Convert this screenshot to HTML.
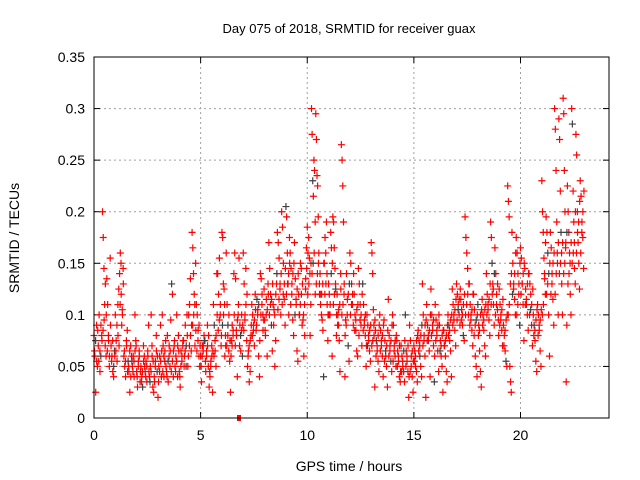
<!DOCTYPE html>
<html><head><meta charset="utf-8"><style>
html,body{margin:0;padding:0;background:#fff;}
svg{display:block;font-family:"Liberation Sans",sans-serif;}
</style></head><body>
<svg id="chart" width="640" height="480">
<rect width="640" height="480" fill="#fff"/>
<text x="349" y="33" font-size="13" text-anchor="middle" fill="#000">Day 075 of 2018, SRMTID for receiver guax</text>
<g id="grid"></g>
<g id="ticks"></g>
<g id="points"></g>
<rect x="94" y="57" width="515" height="361" fill="none" stroke="#000" stroke-width="1"/>
<text x="349" y="471" font-size="14" text-anchor="middle">GPS time / hours</text>
<text x="19" y="238" font-size="14" text-anchor="middle" transform="rotate(-90 19 238)">SRMTID / TECUs</text>
</svg>
<script>
const xTicks=[0,5,10,15,20];
const yTicks=[0,0.05,0.1,0.15,0.2,0.25,0.3,0.35];
const yTickLabels=["0","0.05","0.1","0.15","0.2","0.25","0.3","0.35"];
const binStarts=[0,0.2,0.4,0.6,0.8,1.0,1.2,1.4,1.6,1.8,2.0,2.2,2.4,2.6,2.8,3.0,3.2,3.4,3.6,3.8,4.0,4.2,4.4,4.6,4.8,5.0,5.2,5.4,5.6,5.8,6.0,6.2,6.4,6.6,6.8,7.0,7.2,7.4,7.6,7.8,8.0,8.2,8.4,8.6,8.8,9.0,9.2,9.4,9.6,9.8,10.0,10.2,10.4,10.6,10.8,11.0,11.2,11.4,11.6,11.8,12.0,12.2,12.4,12.6,12.8,13.0,13.2,13.4,13.6,13.8,14.0,14.2,14.4,14.6,14.8,15.0,15.2,15.4,15.6,15.8,16.0,16.2,16.4,16.6,16.8,17.0,17.2,17.4,17.6,17.8,18.0,18.2,18.4,18.6,18.8,19.0,19.2,19.4,19.6,19.8,20.0,20.2,20.4,20.6,20.8,21.0,21.2,21.4,21.6,21.8,22.0,22.2,22.4,22.6,22.8];
const srmtid=[
[.08,.06,.025,.09,.05],[.07,.1,.045,.06,.08],[.2,.175,.145,.11,.13,.06],[.135,.11,.075,.05,.155],[.07,.06,.045,.04,.065],
[.1,.075,.055,.11,.125],[.14,.16,.15,.09,.1,.145],[.06,.05,.04,.075,.085],[.055,.045,.025,.07,.06],[.05,.06,.04,.1,.075],
[.045,.03,.055,.065,.035],[.05,.04,.03,.07,.06],[.045,.055,.035,.065,.09],[.04,.05,.1,.07,.03],[.025,.035,.055,.08,.045],
[.02,.05,.06,.09,.04],[.1,.07,.04,.055,.075],[.045,.08,.035,.06,.05],[.095,.13,.12,.04,.07],[.05,.06,.1,.04,.08],
[.045,.03,.065,.055,.07],[.075,.06,.09,.05,.1],[.05,.1,.11,.135,.065],[.18,.165,.14,.12,.07,.15],[.11,.1,.085,.06,.05],
[.06,.035,.07,.065,.08],[.075,.045,.06,.09,.05],[.03,.04,.055,.07,.025],[.11,.09,.065,.05,.14],[.14,.12,.155,.1,.07],
[.18,.175,.13,.125,.06,.08],[.16,.11,.09,.065,.055],[.025,.075,.09,.08,.14],[.16,.135,.08,.04,.1],[.155,.09,.065,.085,.06],
[.16,.13,.1,.145,.075],[.05,.065,.035,.045,.08],[.11,.1,.09,.07,.12],[.085,.115,.105,.06,.04],[.14,.135,.12,.1,.095],
[.095,.08,.115,.06,.13],[.17,.145,.12,.09,.065],[.11,.105,.05,.075,.13],[.18,.17,.155,.125,.1],[.2,.185,.15,.115,.09],
[.205,.195,.16,.13,.1,.175],[.16,.145,.13,.095,.08],[.17,.135,.11,.065,.055],[.12,.1,.15,.145,.09],[.095,.06,.08,.125,.165],
[.185,.16,.175,.155,.08,.11],[.3,.275,.23,.215,.25,.24,.19],[.295,.27,.235,.225,.195,.16,.13],[.14,.12,.1,.095,.085,.04],[.15,.175,.16,.19,.11,.075],
[.13,.12,.1,.18,.165,.06],[.195,.19,.165,.145,.125,.08],[.12,.1,.09,.075,.045,.14],[.265,.25,.225,.19,.13,.04],[.095,.14,.115,.07,.055],
[.16,.15,.13,.11,.09],[.12,.1,.085,.065,.06],[.145,.13,.11,.09,.07],[.13,.11,.095,.08,.05],[.1,.09,.075,.065,.055],
[.17,.16,.14,.105,.08,.03],[.085,.075,.065,.055,.045],[.1,.085,.07,.06,.04],[.095,.075,.06,.05,.03],[.115,.08,.07,.055,.045],
[.1,.09,.07,.06,.05],[.075,.065,.055,.04,.035],[.07,.06,.05,.045,.035],[.1,.065,.055,.045,.02],[.09,.075,.06,.04,.025],
[.07,.065,.05,.045,.035],[.085,.075,.06,.05,.04],[.13,.1,.08,.06,.02],[.11,.09,.075,.065,.04],[.125,.1,.085,.07,.035],
[.11,.095,.08,.065,.045],[.09,.075,.06,.05,.025],[.085,.07,.06,.045,.035],[.1,.09,.075,.065,.04],[.125,.11,.095,.085,.07],
[.13,.12,.11,.1,.09],[.115,.105,.09,.08,.075],[.195,.175,.16,.145,.1],[.13,.11,.1,.085,.07],[.12,.105,.06,.05,.04],
[.11,.09,.065,.045,.03],[.115,.1,.085,.07,.06],[.14,.12,.105,.095,.08],[.19,.175,.15,.13,.11,.09],[.165,.14,.12,.105,.095],
[.125,.11,.1,.085,.07],[.09,.08,.065,.055,.05],[.225,.21,.195,.05,.035,.025],[.18,.15,.13,.115,.1],[.175,.16,.14,.12,.09],
[.165,.155,.13,.11,.075],[.145,.125,.11,.1,.085],[.14,.13,.12,.09,.07],[.1,.09,.075,.055,.045],[.11,.1,.085,.065,.05],
[.23,.2,.18,.155,.135,.12],[.195,.18,.16,.1,.06],[.18,.165,.14,.115,.09],[.3,.28,.24,.19,.15,.1],[.29,.27,.22,.18,.13,.1],
[.31,.295,.24,.2,.165,.035,.09],[.225,.2,.18,.16,.12,.1],[.3,.285,.22,.19,.145,.13],[.275,.255,.2,.17,.15,.125],[.23,.215,.19,.175,.145]
];
const srmtidCore=[
[.065,.075,.055,.085],[.055,.065,.09,.075],[.085,.095,.07,.1],[.065,.08,.06,.09],[.055,.075,.05,.06],
[.065,.09,.08,.07],[.11,.12,.105,.13],[.065,.055,.07,.045],[.05,.065,.04,.055],[.045,.055,.065,.07],
[.04,.05,.06,.045],[.035,.045,.055,.05],[.04,.05,.06,.045],[.035,.045,.06,.055],[.04,.05,.065,.06],
[.035,.045,.055,.065],[.045,.06,.065,.05],[.04,.055,.07,.065],[.045,.055,.065,.075],[.045,.055,.07,.065],
[.04,.05,.06,.075],[.05,.065,.07,.08],[.06,.07,.08,.09],[.09,.1,.11,.085],[.065,.075,.09,.07],
[.05,.06,.07,.075],[.055,.065,.07,.08],[.045,.05,.06,.065],[.06,.075,.08,.1],[.085,.095,.11,.08],
[.09,.1,.11,.07],[.07,.08,.1,.075],[.06,.07,.085,.1],[.07,.085,.095,.11],[.07,.08,.1,.09],
[.085,.095,.11,.12],[.06,.07,.075,.09],[.08,.085,.095,.105],[.09,.1,.11,.075],[.1,.11,.085,.125],
[.085,.1,.105,.12],[.1,.11,.115,.13],[.09,.1,.12,.14],[.105,.115,.13,.14],[.11,.12,.13,.145],
[.12,.13,.14,.15],[.11,.12,.14,.15],[.1,.115,.125,.14],[.1,.11,.12,.13],[.1,.11,.135,.145],
[.12,.13,.14,.15],[.14,.15,.16,.12],[.13,.14,.15,.12],[.11,.12,.13,.15],[.12,.13,.14,.1],
[.1,.11,.14,.15],[.11,.12,.13,.1],[.09,.105,.11,.125],[.1,.11,.12,.08],[.09,.1,.12,.13],
[.1,.11,.12,.14],[.085,.095,.105,.11],[.08,.095,.1,.12],[.085,.09,.1,.07],[.07,.08,.085,.09],
[.07,.075,.09,.095],[.06,.07,.08,.09],[.065,.075,.08,.09],[.055,.065,.07,.085],[.06,.065,.075,.09],
[.055,.065,.075,.08],[.05,.06,.07,.045],[.045,.055,.065,.075],[.05,.06,.07,.04],[.045,.05,.065,.055],
[.055,.06,.075,.08],[.065,.07,.08,.09],[.07,.075,.09,.095],[.075,.08,.085,.1],[.08,.09,.095,.06],
[.075,.085,.09,.1],[.065,.07,.08,.085],[.07,.075,.08,.09],[.08,.085,.095,.1],[.09,.1,.105,.115],
[.095,.105,.115,.125],[.095,.1,.11,.12],[.1,.11,.12,.13],[.09,.095,.105,.12],[.08,.09,.095,.1],
[.08,.085,.1,.105],[.09,.095,.105,.11],[.1,.11,.115,.13],[.11,.12,.125,.14],[.1,.11,.13,.08],
[.09,.095,.105,.115],[.07,.085,.095,.1],[.1,.11,.13,.14],[.12,.125,.14,.16],[.1,.11,.13,.15],
[.12,.13,.14,.15],[.11,.115,.13,.14],[.1,.105,.11,.125],[.08,.085,.095,.105],[.08,.09,.095,.105],
[.1,.11,.14,.17],[.12,.13,.14,.15],[.12,.13,.15,.16],[.12,.14,.16,.17],[.14,.15,.16,.17],
[.14,.15,.17,.18],[.13,.14,.15,.17],[.15,.16,.17,.2],[.16,.18,.19,.21],[.16,.18,.2,.22]
];
const NS="http://www.w3.org/2000/svg";
const L=94,R=609,T=57,B=418,XMAX=24.15,YMAX=0.35;
function xs(h){return L+(h/XMAX)*(R-L);}
function ys(v){return B-(v/YMAX)*(B-T);}
const grid=document.getElementById('grid'),ticks=document.getElementById('ticks'),pts=document.getElementById('points');
function mk(tag,attrs,parent){const e=document.createElementNS(NS,tag);for(const k in attrs)e.setAttribute(k,attrs[k]);parent.appendChild(e);return e;}
yTicks.forEach((v,i)=>{
  const y=ys(v);
  if(i>0&&i<yTicks.length-1){const g=mk('line',{x1:L,x2:R,y1:y,y2:y,stroke:'#a0a0a0','stroke-dasharray':'2,3'},grid);
  
  }
  mk('line',{x1:L,x2:L+6,y1:y,y2:y,stroke:'#000'},ticks);
  mk('line',{x1:R,x2:R-6,y1:y,y2:y,stroke:'#000'},ticks);
  const t=mk('text',{x:L-9,y:y+5,'font-size':14,'text-anchor':'end'},ticks);
  t.textContent=yTickLabels[i];
  
  
});
xTicks.forEach(h=>{
  const x=xs(h);
  if(h>0){const g=mk('line',{x1:x,x2:x,y1:T,y2:B,stroke:'#a0a0a0','stroke-dasharray':'2,3'},grid);
  
  }
  mk('line',{x1:x,x2:x,y1:B,y2:B-6,stroke:'#000'},ticks);
  mk('line',{x1:x,x2:x,y1:T,y2:T+6,stroke:'#000'},ticks);
  const t=mk('text',{x:x,y:B+22,'font-size':14,'text-anchor':'middle'},ticks);
  t.textContent=String(h);
  
  
});
let n=0;
function plotSet(set,offset){
  binStarts.forEach((h0,i)=>{
    set[i].forEach((v,k)=>{
      const x=xs(h0+offset+k*0.2/set[i].length),y=ys(v);
      const col=(n%17===8)?'#404040':'#ff0000';
      const p=mk('path',{d:`M${x-3.5},${y}h7M${x},${y-3.5}v7`,stroke:col,'stroke-width':1.2,fill:'none'},pts);
      
      
      n++;
    });
  });
}
plotSet(srmtid,0);
plotSet(srmtidCore,0.025);
const m=mk('rect',{x:xs(6.8)-2,y:B-3,width:4,height:6,fill:'#ff0000'},pts);


</script>
</body></html>
